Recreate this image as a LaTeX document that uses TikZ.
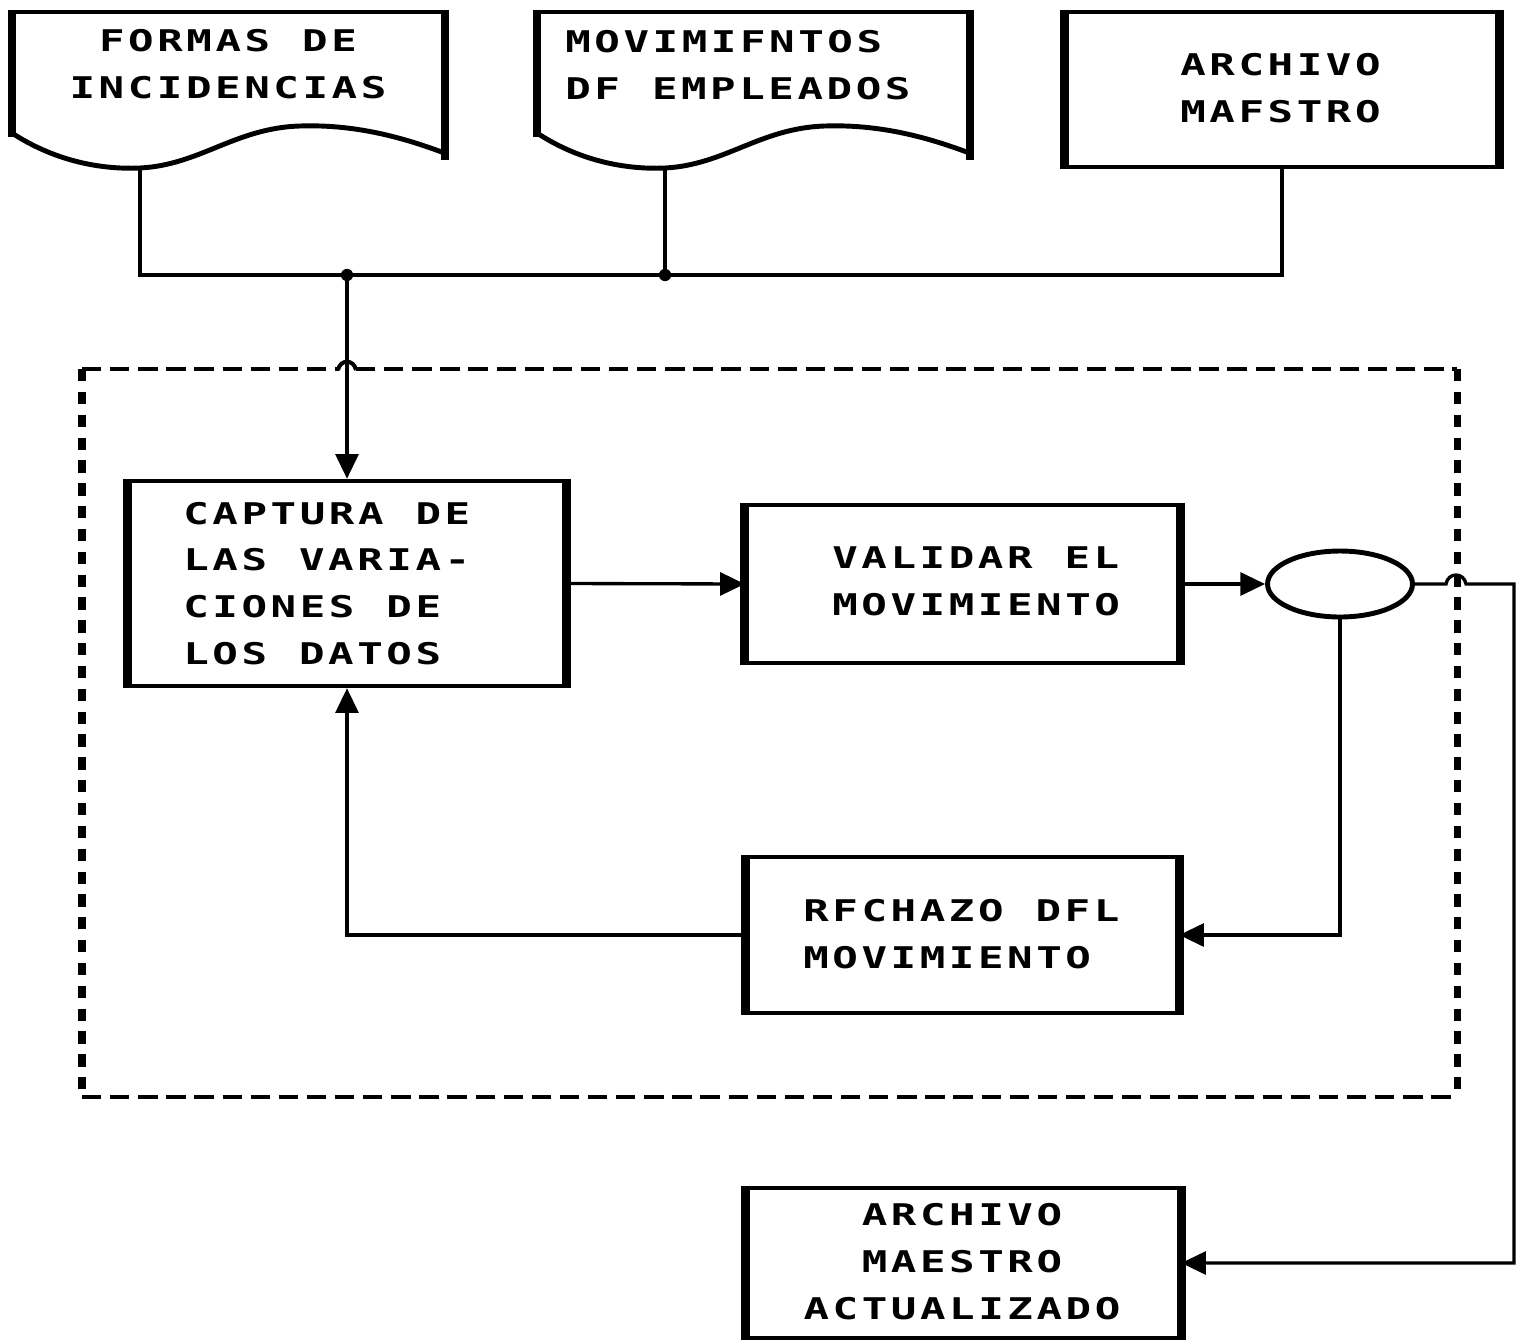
\documentclass[tikz,border=0pt]{standalone}
\usepackage{fontspec}
\newfontfamily\dotfont[FakeStretch=1.42,LetterSpace=12,WordSpace=1.1]{DejaVu Sans Mono}
\usetikzlibrary{arrows.meta,shapes.geometric}
\begin{document}
\begin{tikzpicture}[x=0.02cm,y=-0.02cm,
  conn/.style={line width=1.9pt},
  arr/.style={conn,-{Triangle[length=14pt,width=13pt]}},
  boxn/.style={draw,line width=2.6pt,inner sep=0pt,rectangle},
  sidew/.style={line width=5pt},
  edgew/.style={line width=2.6pt},
  txt/.style={font={\dotfont\bfseries\fontsize{17}{26.65}\selectfont},inner sep=0pt,align=left,anchor=west},
  dashh/.style={line width=2.3pt,dash pattern=on 11pt off 5pt},
  dashv/.style={line width=4pt,dash pattern=on 7pt off 6pt},
  jdot/.style={circle,fill,inner sep=0pt,minimum size=7pt}
]
\useasboundingbox (0,0) rectangle (1524,1342);

% document shapes
\foreach \s in {0,525}{
  \begin{scope}[shift={(\s,0)}]
    \draw[edgew] (12,12) -- (445,12);
    \draw[sidew] (12,10) -- (12,137);
    \draw[sidew] (445,10) -- (445,160);
    \draw[line width=2.8pt] (12,133) .. controls (50,158) and (95,170) .. (140,168)
       .. controls (200,165) and (235,128) .. (300,126)
       .. controls (360,124) and (410,140) .. (447,154);
  \end{scope}
}
\node[txt,anchor=center,align=center] (doc1) at (228,64) {FORMAS DE\\INCIDENCIAS};
\node[txt] (doc2) at (565,65) {MOVIMIFNTOS\\DF EMPLEADOS};
\coordinate (d1b) at (140,168);
\coordinate (d2b) at (665,168);

% master file
\node[boxn,minimum width=8.6cm,minimum height=3.1cm] (box3) at (1282,89.5) {};
\draw[sidew] (box3.north west) -- (box3.south west);
\draw[sidew] (box3.north east) -- (box3.south east);
\node[txt] (box3t) at (1180,88) {ARCHIVO\\MAFSTRO};

% bus
\coordinate (busL) at (140,275);
\coordinate (busR) at (1282,275);
\draw[conn] (d1b) -- (busL) -- (busR) -- (box3.south);
\node[jdot] (j1) at (347,275) {};
\node[jdot] (j2) at (665,275) {};
\draw[conn] (d2b) -- (j2.center);

% dashed boundary
\draw[dashh] (82,369) -- (339,369);
\draw[line width=2.3pt] (338,370) .. controls (340,359) and (354,359) .. (356,370);
\draw[dashh] (356,369) -- (1457,369);
\draw[dashh] (82,1097) -- (1457,1097);
\draw[dashv] (82,369) -- (82,1097);
\draw[dashv] (1457,369) -- (1457,1097);

% process boxes
\node[boxn,minimum width=8.68cm,minimum height=4.1cm] (cap) at (347,583.5) {};
\draw[sidew] (cap.north west) -- (cap.south west);
\draw[sidew] (cap.north east) -- (cap.south east);
\node[txt] (capt) at (183,583.5) {CAPTURA DE\\LAS VARIA-\\CIONES DE\\LOS DATOS};

\node[boxn,minimum width=8.62cm,minimum height=3.16cm] (val) at (962.5,584) {};
\draw[sidew] (val.north west) -- (val.south west);
\draw[sidew] (val.north east) -- (val.south east);
\node[txt] (valt) at (832,581) {VALIDAR EL\\MOVIMIENTO};

\node[draw,ellipse,line width=2.8pt,minimum width=2.9cm,minimum height=1.32cm,inner sep=0pt] (ell) at (1340,584) {};

\node[boxn,minimum width=8.58cm,minimum height=3.12cm] (rech) at (962.5,935) {};
\draw[sidew] (rech.north west) -- (rech.south west);
\draw[sidew] (rech.north east) -- (rech.south east);
\node[txt] (recht) at (803,934.5) {RFCHAZO DFL\\MOVIMIENTO};

\node[boxn,minimum width=8.62cm,minimum height=3.0cm] (arch) at (963.5,1263) {};
\draw[sidew] (arch.north west) -- (arch.south west);
\draw[sidew] (arch.north east) -- (arch.south east);
\node[txt,anchor=center,align=center] (archt) at (962,1261.5) {ARCHIVO\\MAESTRO\\ACTUALIZADO};

% connectors
\draw[arr] (j1.center) -- (cap.north);
\draw[arr] (cap.east) -- (val.west);
\draw[arr] (val.east) -- (ell.west);
\draw[arr] (ell.south) |- (rech.east);
\draw[arr] (rech.west) -| (cap.south);
\coordinate (rt) at (1514,584);
\draw[arr] (ell.east) -- (1446,584) .. controls (1448,572) and (1464,572) .. (1466,584) -- (rt) |- (arch.east);
\end{tikzpicture}
\end{document}
